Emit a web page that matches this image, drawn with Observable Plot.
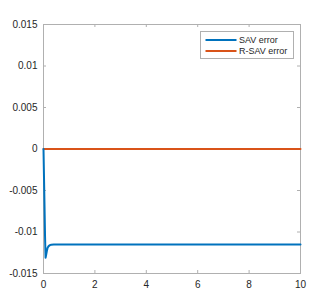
<!DOCTYPE html>
<html>
<head>
<meta charset="utf-8">
<script src="https://cdn.jsdelivr.net/npm/d3@7"></script>
<script src="https://cdn.jsdelivr.net/npm/@observablehq/plot@0.6"></script>
<style>
html,body{margin:0;padding:0;background:#fff;}
#chart{position:relative;width:332px;height:307px;}
</style>
</head>
<body>
<div id="chart"></div>
<script>
const t = [0, 0.02, 0.04, 0.06, 0.08, 0.1, 0.13, 0.16, 0.2, 0.25, 0.3, 0.4, 0.5, 1, 2, 3, 4, 5, 6, 7, 8, 9, 10];
const savError = [0, -0.0035, -0.007, -0.0105, -0.0131, -0.0128, -0.0123, -0.0119, -0.0117, -0.01158, -0.01153, -0.0115, -0.0115, -0.0115, -0.0115, -0.0115, -0.0115, -0.0115, -0.0115, -0.0115, -0.0115, -0.0115, -0.0115];
const rsavError = [0, 0, 0, 0, 0, 0, 0, 0, 0, 0, 0, 0, 0, 0, 0, 0, 0, 0, 0, 0, 0, 0, 0];
const xTicks = [0, 2, 4, 6, 8, 10];
const yTicks = [-0.015, -0.01, -0.005, 0, 0.005, 0.01, 0.015];
const seriesNames = ["SAV error", "R-SAV error"];
const colors = ["#0072BD", "#D95319"];

const sav = t.map((x, i) => ({t: x, v: savError[i]}));
const rsav = t.map((x, i) => ({t: x, v: rsavError[i]}));

const W = 332, H = 307, mL = 43, mR = 32, mT = 24, mB = 34;
const innerW = W - mL - mR, innerH = H - mT - mB;
const axisColor = "#b0b0b0";
const textColor = "#262626";

const chart = Plot.plot({
  width: W, height: H,
  marginLeft: mL, marginRight: mR, marginTop: mT, marginBottom: mB,
  style: {fontFamily: "Liberation Sans, Arial, Helvetica, sans-serif", fontSize: "10px", background: "#fff"},
  x: {domain: [0, 10]},
  y: {domain: [-0.015, 0.015]},
  marks: [
    Plot.frame({stroke: axisColor}),
    // inward ticks
    Plot.tickX(xTicks, {x: d => d, stroke: axisColor, insetTop: innerH - 3}),
    Plot.tickX(xTicks, {x: d => d, stroke: axisColor, insetBottom: innerH - 3}),
    Plot.tickY(yTicks, {y: d => d, stroke: axisColor, insetRight: innerW - 3}),
    Plot.tickY(yTicks, {y: d => d, stroke: axisColor, insetLeft: innerW - 3}),
    Plot.axisX({ticks: xTicks, tickSize: 0, tickPadding: 7, label: null, tickFormat: d => String(d), color: textColor}),
    Plot.axisY({ticks: yTicks, tickSize: 0, tickPadding: 6, label: null, tickFormat: d => String(d), color: textColor}),
    Plot.line(rsav, {x: "t", y: "v", stroke: colors[1], strokeWidth: 2}),
    Plot.line(sav, {x: "t", y: "v", stroke: colors[0], strokeWidth: 2})
  ]
});
document.getElementById("chart").appendChild(chart);

// legend inside the axes (top right)
const svg = d3.select(chart);
const lg = svg.append("g").attr("transform", "translate(200.5,31.5)").attr("text-anchor", "start");
lg.append("rect").attr("width", 93).attr("height", 27).attr("fill", "#fff").attr("stroke", axisColor);
seriesNames.forEach((name, i) => {
  const y = 8.5 + i * 11;
  lg.append("line").attr("x1", 5).attr("x2", 36).attr("y1", y).attr("y2", y)
    .attr("stroke", colors[i]).attr("stroke-width", 2);
  lg.append("text").attr("x", 38.5).attr("y", y).attr("dy", "0.35em")
    .attr("text-anchor", "start")
    .attr("font-size", 9).attr("fill", textColor)
    .attr("font-family", "Liberation Sans, Arial, Helvetica, sans-serif").text(name);
});
</script>
</body>
</html>
